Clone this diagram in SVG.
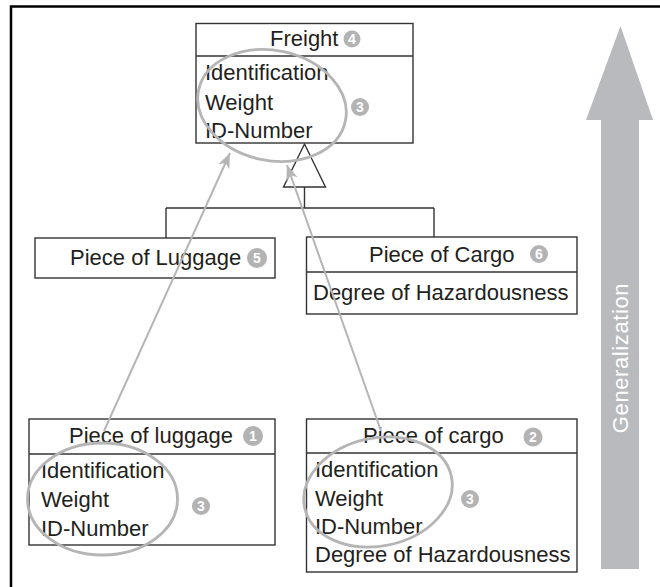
<svg xmlns="http://www.w3.org/2000/svg" width="660" height="587" viewBox="0 0 660 587">
  <style>
    .box { fill: #ffffff; stroke: #333333; stroke-width: 1.4; }
    .sep { fill: none; stroke: #333333; stroke-width: 1.4; }
    .t { font-family: "Liberation Sans", Arial, sans-serif; font-size: 22px; fill: #231f20; }
    .badge { fill: #b3b3b3; }
    .bn { font-family: "Liberation Sans", Arial, sans-serif; font-size: 14px; font-weight: bold; fill: #ffffff; text-anchor: middle; }
    .ring { fill: none; stroke: #b5b5b5; stroke-width: 2.8; }
    .trace { fill: none; stroke: #b5b5b5; stroke-width: 2; }
    .gen { fill: none; stroke: #333333; stroke-width: 1.4; }
  </style>
  <defs>
    <marker id="grayHead" viewBox="-16 -7 18 14" markerWidth="18" markerHeight="14" refX="0" refY="0" orient="auto" markerUnits="userSpaceOnUse">
      <path d="M0,0 L-15,-6 L-11,0 L-15,6 Z" fill="#b5b5b5"/>
    </marker>
  </defs>

  <!-- frame -->
  <path d="M11,587 V6.5 H660" fill="none" stroke="#000000" stroke-width="2.5"/>

  <!-- generalization arrow -->
  <g id="generalization">
    <path d="M601,569 V120 H586 L620.5,26 L653,120 H639 V569 Z" fill="#b9babd"/>
    <text transform="translate(627.5,358) rotate(-90)" text-anchor="middle" font-family="Liberation Sans, Arial, sans-serif" font-size="22" fill="#ffffff" letter-spacing="0.6">Generalization</text>
  </g>

  <!-- inheritance connectors -->
  <g id="connectors">
    <path class="gen" d="M304.5,144 L283.5,187 H325.5 Z" fill="#ffffff"/>
    <path class="gen" d="M304.5,187 V208 M166,208 H434 M166,208 V238 M434,208 V237"/>
  </g>

  <!-- Freight -->
  <g id="freight">
    <rect class="box" x="196" y="23.5" width="217" height="119.5"/>
    <line class="sep" x1="196" y1="56" x2="413" y2="56"/>
    <text class="t" x="270" y="46">Freight</text>
    <circle class="badge" cx="352" cy="39" r="8.5"/>
    <text class="bn" x="352" y="44">4</text>
    <text class="t" x="205" y="80">Identification</text>
    <text class="t" x="205" y="110">Weight</text>
    <text class="t" x="205" y="138">ID-Number</text>
    <ellipse class="ring" cx="272" cy="105.5" rx="75" ry="55" transform="rotate(12 272 105.5)"/>
    <circle class="badge" cx="360" cy="107" r="9"/>
    <text class="bn" x="360" y="112">3</text>
  </g>

  <!-- Piece of Luggage (general) -->
  <g id="piece-of-luggage">
    <rect class="box" x="35" y="238" width="240" height="40"/>
    <text class="t" x="70" y="265">Piece of Luggage</text>
    <circle class="badge" cx="257" cy="258" r="10"/>
    <text class="bn" x="257" y="263">5</text>
  </g>

  <!-- Piece of Cargo (general) -->
  <g id="piece-of-cargo">
    <rect class="box" x="306.5" y="237" width="270.5" height="77"/>
    <line class="sep" x1="306.5" y1="272" x2="577" y2="272"/>
    <text class="t" x="369" y="262">Piece of Cargo</text>
    <circle class="badge" cx="539" cy="254" r="9"/>
    <text class="bn" x="539" y="259">6</text>
    <text class="t" x="313" y="300">Degree of Hazardousness</text>
  </g>

  <!-- piece of luggage (concrete) -->
  <g id="luggage-item">
    <rect class="box" x="29" y="419" width="246" height="126"/>
    <line class="sep" x1="29" y1="454" x2="275" y2="454"/>
    <text class="t" x="69" y="443">Piece of luggage</text>
    <circle class="badge" cx="253" cy="436" r="10"/>
    <text class="bn" x="253" y="441">1</text>
    <text class="t" x="41" y="478">Identification</text>
    <text class="t" x="41" y="507">Weight</text>
    <text class="t" x="41" y="536">ID-Number</text>
    <ellipse class="ring" cx="102.5" cy="499" rx="75" ry="56"/>
    <circle class="badge" cx="201" cy="506" r="9"/>
    <text class="bn" x="201" y="511">3</text>
  </g>

  <!-- piece of cargo (concrete) -->
  <g id="cargo-item">
    <rect class="box" x="306.5" y="419" width="270.5" height="153"/>
    <line class="sep" x1="306.5" y1="453" x2="577" y2="453"/>
    <text class="t" x="363" y="443">Piece of cargo</text>
    <circle class="badge" cx="533" cy="437" r="9.5"/>
    <text class="bn" x="533" y="442">2</text>
    <text class="t" x="315" y="477">Identification</text>
    <text class="t" x="315" y="506">Weight</text>
    <text class="t" x="315" y="534">ID-Number</text>
    <text class="t" x="315" y="562">Degree of Hazardousness</text>
    <ellipse class="ring" cx="378" cy="492" rx="75" ry="54" transform="rotate(-12 378 492)"/>
    <circle class="badge" cx="470" cy="499" r="9"/>
    <text class="bn" x="470" y="504">3</text>
  </g>

  <!-- trace arrows from instances to the shared class -->
  <g id="traces">
    <line class="trace" x1="104" y1="431" x2="230" y2="153" marker-end="url(#grayHead)"/>
    <line class="trace" x1="381" y1="431" x2="287" y2="165" marker-end="url(#grayHead)"/>
  </g>
</svg>
